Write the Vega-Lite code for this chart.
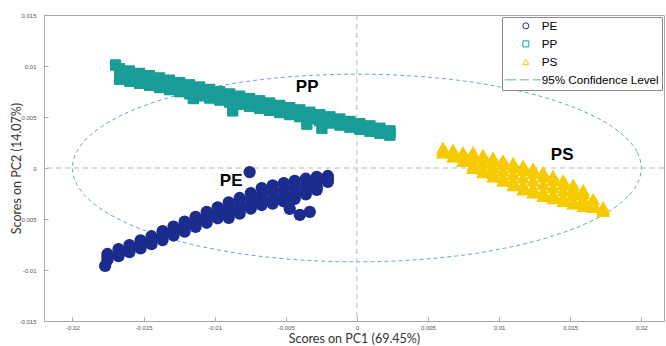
{
  "$schema": "https://vega.github.io/schema/vega-lite/v6.json",
  "width": 620,
  "height": 306,
  "autosize": {"type": "none"},
  "padding": {"left": 44, "top": 15, "right": 2, "bottom": 25},
  "background": "white",
  "config": {
    "view": {"stroke": "#a8a8a8"},
    "axis": {
      "grid": false,
      "domainColor": "#a8a8a8",
      "tickColor": "#a8a8a8",
      "tickSize": -4,
      "labelFont": "Liberation Sans",
      "labelFontSize": 6,
      "labelColor": "#555555",
      "titleFont": "Lato",
      "titleFontSize": 12.5,
      "titleFontWeight": "normal",
      "titleColor": "#333333"
    }
  },
  "datasets": {
    "ell": [
      {"o":0,"x":0.02,"y":0},{"o":1,"x":0.0197,"y":0.0016},{"o":2,"x":0.01879,"y":0.00315},{"o":3,"x":0.01732,"y":0.0046},
      {"o":4,"x":0.01532,"y":0.00591},{"o":5,"x":0.01286,"y":0.00705},{"o":6,"x":0.01,"y":0.00797},{"o":7,"x":0.00684,"y":0.00865},
      {"o":8,"x":0.00347,"y":0.00906},{"o":9,"x":0,"y":0.0092},{"o":10,"x":-0.00347,"y":0.00906},{"o":11,"x":-0.00684,"y":0.00865},
      {"o":12,"x":-0.01,"y":0.00797},{"o":13,"x":-0.01286,"y":0.00705},{"o":14,"x":-0.01532,"y":0.00591},{"o":15,"x":-0.01732,"y":0.0046},
      {"o":16,"x":-0.01879,"y":0.00315},{"o":17,"x":-0.0197,"y":0.0016},{"o":18,"x":-0.02,"y":0},{"o":19,"x":-0.0197,"y":-0.0016},
      {"o":20,"x":-0.01879,"y":-0.00315},{"o":21,"x":-0.01732,"y":-0.0046},{"o":22,"x":-0.01532,"y":-0.00591},{"o":23,"x":-0.01286,"y":-0.00705},
      {"o":24,"x":-0.01,"y":-0.00797},{"o":25,"x":-0.00684,"y":-0.00865},{"o":26,"x":-0.00347,"y":-0.00906},{"o":27,"x":0,"y":-0.0092},
      {"o":28,"x":0.00347,"y":-0.00906},{"o":29,"x":0.00684,"y":-0.00865},{"o":30,"x":0.01,"y":-0.00797},{"o":31,"x":0.01286,"y":-0.00705},
      {"o":32,"x":0.01532,"y":-0.00591},{"o":33,"x":0.01732,"y":-0.0046},{"o":34,"x":0.01879,"y":-0.00315},{"o":35,"x":0.0197,"y":-0.0016}
    ],
    "lbl": [
      {"t":"PP","x":-0.00349,"y":0.00799},
      {"t":"PE","x":-0.00884,"y":-0.00132},
      {"t":"PS","x":0.01444,"y":0.00127}
    ],
    "pts": [
      {"g":"PP","x":-0.01669,"y":0.00973},{"g":"PP","x":-0.01669,"y":0.00922},{"g":"PP","x":-0.01669,"y":0.0087},
      {"g":"PP","x":-0.01599,"y":0.00951},{"g":"PP","x":-0.01599,"y":0.009},{"g":"PP","x":-0.01599,"y":0.0085},
      {"g":"PP","x":-0.01528,"y":0.00928},{"g":"PP","x":-0.01528,"y":0.00879},{"g":"PP","x":-0.01528,"y":0.00829},
      {"g":"PP","x":-0.01458,"y":0.00906},{"g":"PP","x":-0.01458,"y":0.00857},{"g":"PP","x":-0.01458,"y":0.00809},
      {"g":"PP","x":-0.01387,"y":0.00883},{"g":"PP","x":-0.01387,"y":0.00836},{"g":"PP","x":-0.01387,"y":0.00788},
      {"g":"PP","x":-0.01317,"y":0.00861},{"g":"PP","x":-0.01317,"y":0.00814},{"g":"PP","x":-0.01317,"y":0.00768},
      {"g":"PP","x":-0.01246,"y":0.00839},{"g":"PP","x":-0.01246,"y":0.00793},{"g":"PP","x":-0.01246,"y":0.00748},
      {"g":"PP","x":-0.01176,"y":0.00816},{"g":"PP","x":-0.01176,"y":0.00772},{"g":"PP","x":-0.01176,"y":0.00727},
      {"g":"PP","x":-0.01106,"y":0.00794},{"g":"PP","x":-0.01106,"y":0.0075},{"g":"PP","x":-0.01106,"y":0.00707},
      {"g":"PP","x":-0.01035,"y":0.00771},{"g":"PP","x":-0.01035,"y":0.00729},{"g":"PP","x":-0.01035,"y":0.00686},
      {"g":"PP","x":-0.00965,"y":0.00749},{"g":"PP","x":-0.00965,"y":0.00707},{"g":"PP","x":-0.00965,"y":0.00666},
      {"g":"PP","x":-0.00894,"y":0.00726},{"g":"PP","x":-0.00894,"y":0.00686},{"g":"PP","x":-0.00894,"y":0.00645},
      {"g":"PP","x":-0.00824,"y":0.00704},{"g":"PP","x":-0.00824,"y":0.00665},{"g":"PP","x":-0.00824,"y":0.00625},
      {"g":"PP","x":-0.00754,"y":0.00682},{"g":"PP","x":-0.00754,"y":0.00643},{"g":"PP","x":-0.00754,"y":0.00605},
      {"g":"PP","x":-0.00683,"y":0.00659},{"g":"PP","x":-0.00683,"y":0.00622},{"g":"PP","x":-0.00683,"y":0.00584},
      {"g":"PP","x":-0.00613,"y":0.00637},{"g":"PP","x":-0.00613,"y":0.006},{"g":"PP","x":-0.00613,"y":0.00564},
      {"g":"PP","x":-0.00542,"y":0.00614},{"g":"PP","x":-0.00542,"y":0.00579},{"g":"PP","x":-0.00542,"y":0.00543},
      {"g":"PP","x":-0.00472,"y":0.00592},{"g":"PP","x":-0.00472,"y":0.00557},{"g":"PP","x":-0.00472,"y":0.00523},
      {"g":"PP","x":-0.00401,"y":0.0057},{"g":"PP","x":-0.00401,"y":0.00536},{"g":"PP","x":-0.00401,"y":0.00503},
      {"g":"PP","x":-0.00331,"y":0.00547},{"g":"PP","x":-0.00331,"y":0.00515},{"g":"PP","x":-0.00331,"y":0.00482},
      {"g":"PP","x":-0.00261,"y":0.00525},{"g":"PP","x":-0.00261,"y":0.00493},{"g":"PP","x":-0.00261,"y":0.00462},
      {"g":"PP","x":-0.0019,"y":0.00502},{"g":"PP","x":-0.0019,"y":0.00472},{"g":"PP","x":-0.0019,"y":0.00441},
      {"g":"PP","x":-0.0012,"y":0.0048},{"g":"PP","x":-0.0012,"y":0.0045},{"g":"PP","x":-0.0012,"y":0.00421},
      {"g":"PP","x":-0.00049,"y":0.00457},{"g":"PP","x":-0.00049,"y":0.00429},{"g":"PP","x":-0.00049,"y":0.004},
      {"g":"PP","x":0.00021,"y":0.00435},{"g":"PP","x":0.00021,"y":0.00408},{"g":"PP","x":0.00021,"y":0.0038},
      {"g":"PP","x":0.00092,"y":0.00413},{"g":"PP","x":0.00092,"y":0.00386},{"g":"PP","x":0.00092,"y":0.0036},
      {"g":"PP","x":0.00162,"y":0.0039},{"g":"PP","x":0.00162,"y":0.00365},{"g":"PP","x":0.00162,"y":0.00339},
      {"g":"PP","x":0.00232,"y":0.00365},{"g":"PP","x":0.00232,"y":0.00343},{"g":"PP","x":0.00232,"y":0.00321},
      {"g":"PP","x":-0.01697,"y":0.0101},{"g":"PP","x":-0.0115,"y":0.0068},{"g":"PP","x":-0.00873,"y":0.0056},{"g":"PP","x":-0.00352,"y":0.0043},{"g":"PP","x":-0.00246,"y":0.0039},

      {"g":"PE","x":-0.01754,"y":-0.00843},{"g":"PE","x":-0.01754,"y":-0.00873},{"g":"PE","x":-0.01754,"y":-0.00902},
      {"g":"PE","x":-0.01676,"y":-0.00795},{"g":"PE","x":-0.01676,"y":-0.00829},{"g":"PE","x":-0.01676,"y":-0.00864},
      {"g":"PE","x":-0.01599,"y":-0.00755},{"g":"PE","x":-0.01599,"y":-0.00789},{"g":"PE","x":-0.01599,"y":-0.00824},
      {"g":"PE","x":-0.01521,"y":-0.0071},{"g":"PE","x":-0.01521,"y":-0.00749},{"g":"PE","x":-0.01521,"y":-0.00788},
      {"g":"PE","x":-0.01444,"y":-0.00669},{"g":"PE","x":-0.01444,"y":-0.00708},{"g":"PE","x":-0.01444,"y":-0.00747},
      {"g":"PE","x":-0.01366,"y":-0.00619},{"g":"PE","x":-0.01366,"y":-0.00663},{"g":"PE","x":-0.01366,"y":-0.00707},
      {"g":"PE","x":-0.01289,"y":-0.00574},{"g":"PE","x":-0.01289,"y":-0.00618},{"g":"PE","x":-0.01289,"y":-0.00662},
      {"g":"PE","x":-0.01211,"y":-0.00525},{"g":"PE","x":-0.01211,"y":-0.00574},{"g":"PE","x":-0.01211,"y":-0.00623},
      {"g":"PE","x":-0.01134,"y":-0.00479},{"g":"PE","x":-0.01134,"y":-0.00528},{"g":"PE","x":-0.01134,"y":-0.00577},
      {"g":"PE","x":-0.01056,"y":-0.00429},{"g":"PE","x":-0.01056,"y":-0.00483},{"g":"PE","x":-0.01056,"y":-0.00537},
      {"g":"PE","x":-0.00979,"y":-0.00385},{"g":"PE","x":-0.00979,"y":-0.00439},{"g":"PE","x":-0.00979,"y":-0.00493},
      {"g":"PE","x":-0.00901,"y":-0.00337},{"g":"PE","x":-0.00901,"y":-0.00396},{"g":"PE","x":-0.00901,"y":-0.00455},{"g":"PE","x":-0.00901,"y":-0.0049},
      {"g":"PE","x":-0.00824,"y":-0.00294},{"g":"PE","x":-0.00824,"y":-0.00353},{"g":"PE","x":-0.00824,"y":-0.00412},{"g":"PE","x":-0.00824,"y":-0.00447},
      {"g":"PE","x":-0.00746,"y":-0.00246},{"g":"PE","x":-0.00746,"y":-0.00305},{"g":"PE","x":-0.00746,"y":-0.00364},{"g":"PE","x":-0.00746,"y":-0.00399},
      {"g":"PE","x":-0.00669,"y":-0.00197},{"g":"PE","x":-0.00669,"y":-0.00261},{"g":"PE","x":-0.00669,"y":-0.00325},{"g":"PE","x":-0.00669,"y":-0.00363},
      {"g":"PE","x":-0.00592,"y":-0.00171},{"g":"PE","x":-0.00592,"y":-0.00239},{"g":"PE","x":-0.00592,"y":-0.00308},{"g":"PE","x":-0.00592,"y":-0.00349},
      {"g":"PE","x":-0.00514,"y":-0.00149},{"g":"PE","x":-0.00514,"y":-0.00218},{"g":"PE","x":-0.00514,"y":-0.00286},{"g":"PE","x":-0.00514,"y":-0.00327},
      {"g":"PE","x":-0.00437,"y":-0.00125},{"g":"PE","x":-0.00437,"y":-0.00193},{"g":"PE","x":-0.00437,"y":-0.00262},{"g":"PE","x":-0.00437,"y":-0.00303},
      {"g":"PE","x":-0.00359,"y":-0.00105},{"g":"PE","x":-0.00359,"y":-0.00164},{"g":"PE","x":-0.00359,"y":-0.00223},{"g":"PE","x":-0.00359,"y":-0.00258},
      {"g":"PE","x":-0.00282,"y":-0.00086},{"g":"PE","x":-0.00282,"y":-0.00135},{"g":"PE","x":-0.00282,"y":-0.00184},{"g":"PE","x":-0.00282,"y":-0.00214},
      {"g":"PE","x":-0.00204,"y":-0.00078},{"g":"PE","x":-0.00204,"y":-0.00108},{"g":"PE","x":-0.00204,"y":-0.00137},
      {"g":"PE","x":-0.00472,"y":-0.0040},{"g":"PE","x":-0.00401,"y":-0.0046},{"g":"PE","x":-0.00331,"y":-0.0043},{"g":"PE","x":-0.0177,"y":-0.0096},{"g":"PE","x":-0.00754,"y":-0.0004},

      {"g":"PS","x":0.00606,"y":0.00201},{"g":"PS","x":0.00606,"y":0.00176},{"g":"PS","x":0.00606,"y":0.00152},
      {"g":"PS","x":0.00676,"y":0.00181},{"g":"PS","x":0.00676,"y":0.00147},{"g":"PS","x":0.00676,"y":0.00113},
      {"g":"PS","x":0.00746,"y":0.00157},{"g":"PS","x":0.00746,"y":0.00113},{"g":"PS","x":0.00746,"y":0.00069},
      {"g":"PS","x":0.00817,"y":0.00157},{"g":"PS","x":0.00817,"y":0.00127},{"g":"PS","x":0.00817,"y":0.00078},{"g":"PS","x":0.00817,"y":0.00029},{"g":"PS","x":0.00817,"y":0},
      {"g":"PS","x":0.00887,"y":0.0013},{"g":"PS","x":0.00887,"y":0.00098},{"g":"PS","x":0.00887,"y":0.00044},{"g":"PS","x":0.00887,"y":-0.0001},{"g":"PS","x":0.00887,"y":-0.00042},
      {"g":"PS","x":0.00958,"y":0.00104},{"g":"PS","x":0.00958,"y":0.00069},{"g":"PS","x":0.00958,"y":0.0001},{"g":"PS","x":0.00958,"y":-0.00049},{"g":"PS","x":0.00958,"y":-0.00084},
      {"g":"PS","x":0.01028,"y":0.00077},{"g":"PS","x":0.01028,"y":0.00039},{"g":"PS","x":0.01028,"y":-0.00025},{"g":"PS","x":0.01028,"y":-0.00088},{"g":"PS","x":0.01028,"y":-0.00126},
      {"g":"PS","x":0.01099,"y":0.00051},{"g":"PS","x":0.01099,"y":0.0001},{"g":"PS","x":0.01099,"y":-0.00059},{"g":"PS","x":0.01099,"y":-0.00127},{"g":"PS","x":0.01099,"y":-0.00169},
      {"g":"PS","x":0.01169,"y":0.00025},{"g":"PS","x":0.01169,"y":-0.0002},{"g":"PS","x":0.01169,"y":-0.00093},{"g":"PS","x":0.01169,"y":-0.00167},{"g":"PS","x":0.01169,"y":-0.00211},
      {"g":"PS","x":0.01239,"y":-0.00005},{"g":"PS","x":0.01239,"y":-0.00049},{"g":"PS","x":0.01239,"y":-0.00123},{"g":"PS","x":0.01239,"y":-0.00196},{"g":"PS","x":0.01239,"y":-0.0024},
      {"g":"PS","x":0.0131,"y":-0.00039},{"g":"PS","x":0.0131,"y":-0.00083},{"g":"PS","x":0.0131,"y":-0.00157},{"g":"PS","x":0.0131,"y":-0.0023},{"g":"PS","x":0.0131,"y":-0.00275},
      {"g":"PS","x":0.0138,"y":-0.00076},{"g":"PS","x":0.0138,"y":-0.00118},{"g":"PS","x":0.0138,"y":-0.00186},{"g":"PS","x":0.0138,"y":-0.00255},{"g":"PS","x":0.0138,"y":-0.00296},
      {"g":"PS","x":0.01451,"y":-0.00119},{"g":"PS","x":0.01451,"y":-0.00157},{"g":"PS","x":0.01451,"y":-0.00221},{"g":"PS","x":0.01451,"y":-0.00284},{"g":"PS","x":0.01451,"y":-0.00323},
      {"g":"PS","x":0.01521,"y":-0.00161},{"g":"PS","x":0.01521,"y":-0.00196},{"g":"PS","x":0.01521,"y":-0.00255},{"g":"PS","x":0.01521,"y":-0.00314},{"g":"PS","x":0.01521,"y":-0.00349},
      {"g":"PS","x":0.01592,"y":-0.00216},{"g":"PS","x":0.01592,"y":-0.00245},{"g":"PS","x":0.01592,"y":-0.00294},{"g":"PS","x":0.01592,"y":-0.00343},{"g":"PS","x":0.01592,"y":-0.00373},
      {"g":"PS","x":0.01662,"y":-0.00304},{"g":"PS","x":0.01662,"y":-0.00343},{"g":"PS","x":0.01662,"y":-0.00382},
      {"g":"PS","x":0.01732,"y":-0.00382},{"g":"PS","x":0.01732,"y":-0.00402},{"g":"PS","x":0.01732,"y":-0.00422}
    ]
  },
  "layer": [
    {
      "data": {"name": "ell"},
      "mark": {"type": "line", "strokeDash": [4, 3], "color": "#66aab8", "strokeWidth": 1, "interpolate": "cardinal-closed"},
      "encoding": {
        "x": {
          "field": "x", "type": "quantitative",
          "scale": {"domain": [-0.022, 0.0216], "nice": false, "zero": false},
          "axis": {
            "title": "Scores on PC1 (69.45%)",
            "values": [-0.02, -0.015, -0.01, -0.005, 0, 0.005, 0.01, 0.015, 0.02],
            "labelExpr": "replace(format(datum.value, '~g'), '\u2212', '-')",
            "labelPadding": 7,
            "titlePadding": 2
          }
        },
        "y": {
          "field": "y", "type": "quantitative",
          "scale": {"domain": [-0.015, 0.015], "nice": false, "zero": false},
          "axis": {
            "title": "Scores on PC2 (14.07%)",
            "values": [-0.015, -0.01, -0.005, 0, 0.005, 0.01, 0.015],
            "labelExpr": "replace(format(datum.value, '~g'), '\u2212', '-')",
            "labelPadding": 12,
            "titlePadding": -5
          }
        },
        "order": {"field": "o"}
      }
    },
    {
      "data": {"values": [{"v": 0}]},
      "mark": {"type": "rule", "strokeDash": [5, 4], "color": "#b8b8b8", "strokeWidth": 1},
      "encoding": {"x": {"field": "v", "type": "quantitative"}}
    },
    {
      "data": {"values": [{"v": 0}]},
      "mark": {"type": "rule", "strokeDash": [5, 4], "color": "#b8b8b8", "strokeWidth": 1},
      "encoding": {"y": {"field": "v", "type": "quantitative"}}
    },
    {
      "data": {"name": "pts"},
      "transform": [{"filter": {"field": "g", "equal": "PE"}}],
      "mark": {"type": "point", "filled": true, "opacity": 1, "shape": "circle", "size": 150, "color": "#1c2b8e"},
      "encoding": {
        "x": {"field": "x", "type": "quantitative"},
        "y": {"field": "y", "type": "quantitative"}
      }
    },
    {
      "data": {"name": "pts"},
      "transform": [{"filter": {"field": "g", "equal": "PP"}}],
      "mark": {"type": "point", "filled": true, "opacity": 1, "shape": "square", "size": 120, "color": "#1a9d98"},
      "encoding": {
        "x": {"field": "x", "type": "quantitative"},
        "y": {"field": "y", "type": "quantitative"}
      }
    },
    {
      "data": {"name": "pts"},
      "transform": [{"filter": {"field": "g", "equal": "PS"}}],
      "mark": {"type": "point", "filled": true, "opacity": 1, "shape": "triangle-up", "size": 190, "color": "#f7ca00"},
      "encoding": {
        "x": {"field": "x", "type": "quantitative"},
        "y": {"field": "y", "type": "quantitative"}
      }
    },
    {
      "data": {"name": "pts"},
      "mark": {"type": "point", "filled": false, "opacity": 1, "size": 100, "strokeWidth": 1},
      "encoding": {
        "x": {"field": "x", "type": "quantitative"},
        "y": {"field": "y", "type": "quantitative"},
        "color": {
          "field": "g", "type": "nominal",
          "scale": {"domain": ["PE", "PP", "PS", "95% Confidence Level"], "range": ["#1c2b8e", "#1a9d98", "#f7ca00", "#5fa8b8"]},
          "legend": {
            "title": null, "orient": "top-right", "offset": 2, "padding": 3,
            "strokeColor": "#8a8a8a", "fillColor": "white",
            "labelFont": "Liberation Sans", "labelFontSize": 11.7, "labelColor": "black",
            "symbolSize": 36, "symbolOffset": 15, "labelOffset": 10, "rowPadding": 5, "symbolStrokeWidth": 1
          }
        },
        "shape": {
          "field": "g", "type": "nominal",
          "scale": {"domain": ["PE", "PP", "PS", "95% Confidence Level"], "range": ["circle", "square", "triangle-up", "M-7,0H-3.3M-2,0H1M2.3,0H5"]},
          "legend": {
            "title": null, "orient": "top-right", "offset": 2, "padding": 3,
            "strokeColor": "#8a8a8a", "fillColor": "white",
            "labelFont": "Liberation Sans", "labelFontSize": 11.7, "labelColor": "black",
            "symbolSize": 36, "symbolOffset": 15, "labelOffset": 10, "rowPadding": 5, "symbolStrokeWidth": 1
          }
        }
      }
    },
    {
      "data": {"name": "lbl"},
      "mark": {"type": "text", "font": "Liberation Sans", "fontSize": 17, "fontWeight": "bold", "color": "black", "align": "center", "baseline": "middle"},
      "encoding": {
        "x": {"field": "x", "type": "quantitative"},
        "y": {"field": "y", "type": "quantitative"},
        "text": {"field": "t"}
      }
    }
  ]
}
